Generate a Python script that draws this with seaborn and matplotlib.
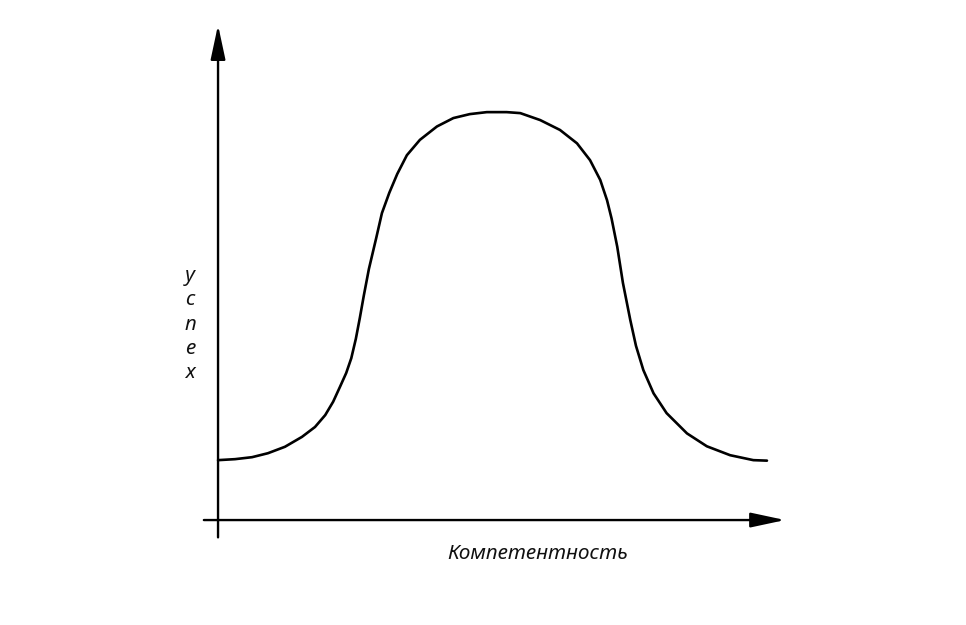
import numpy as np
import pandas as pd
import matplotlib
matplotlib.use('Agg')
import matplotlib.pyplot as plt
import seaborn as sns

# ---------------------------
# Data
# ---------------------------
competence = [0.00, 0.30, 0.60, 0.88, 1.18, 1.48, 1.71, 1.89, 2.03, 2.15,
              2.26, 2.35, 2.43, 2.50, 2.57, 2.66, 2.79, 2.89, 3.02, 3.16,
              3.33, 3.56, 3.86, 4.15, 4.44, 4.74, 5.09, 5.33, 5.68, 6.03,
              6.33, 6.56, 6.74, 6.86, 6.94, 7.04, 7.14, 7.27, 7.37, 7.50,
              7.68, 7.91, 8.27, 8.62, 9.03, 9.44, 9.68]
success = [1.21, 1.23, 1.27, 1.35, 1.48, 1.68, 1.88, 2.12, 2.39, 2.69,
           2.97, 3.27, 3.66, 4.08, 4.53, 5.07, 5.70, 6.20, 6.61, 6.99,
           7.37, 7.68, 7.95, 8.12, 8.20, 8.24, 8.24, 8.22, 8.08, 7.88,
           7.61, 7.27, 6.87, 6.46, 6.09, 5.52, 4.79, 4.04, 3.52, 3.03,
           2.56, 2.16, 1.75, 1.49, 1.31, 1.21, 1.20]

x_label = "Компетентность"
y_label = "успех"

df = pd.DataFrame({"competence": competence, "success": success})

# ---------------------------
# Plot
# ---------------------------
sns.set_theme(style="white")
plt.rcParams['font.family'] = ['Noto Sans', 'DejaVu Sans']

fig = plt.figure(figsize=(9.66, 6.25), dpi=100)
ax = fig.add_axes([0, 0, 1, 1])
ax.set_xlim(-3.845, 13.19)
ax.set_ylim(-2.12, 10.505)
ax.axis('off')

sns.lineplot(data=df, x="competence", y="success", color="black",
             linewidth=1.9, sort=False, ax=ax)

# axes with arrow heads
arrow = dict(arrowstyle='-|>,head_length=1.4,head_width=0.3', color='black',
             lw=1.7, mutation_scale=15, shrinkA=0, shrinkB=0)
ax.annotate('', xy=(0, 10), xytext=(0, -0.35), arrowprops=arrow)
ax.annotate('', xy=(10, 0), xytext=(-0.25, 0), arrowprops=arrow)

ax.text(5.64, -0.67, x_label, ha='center', va='center', fontsize=15,
        fontstyle='italic', color='#111111')
ax.text(-0.49, 3.96, "\n".join(y_label), ha='center', va='center',
        fontsize=15, fontstyle='italic', linespacing=1.2, color='#111111')

fig.savefig('out.png', dpi=100)
